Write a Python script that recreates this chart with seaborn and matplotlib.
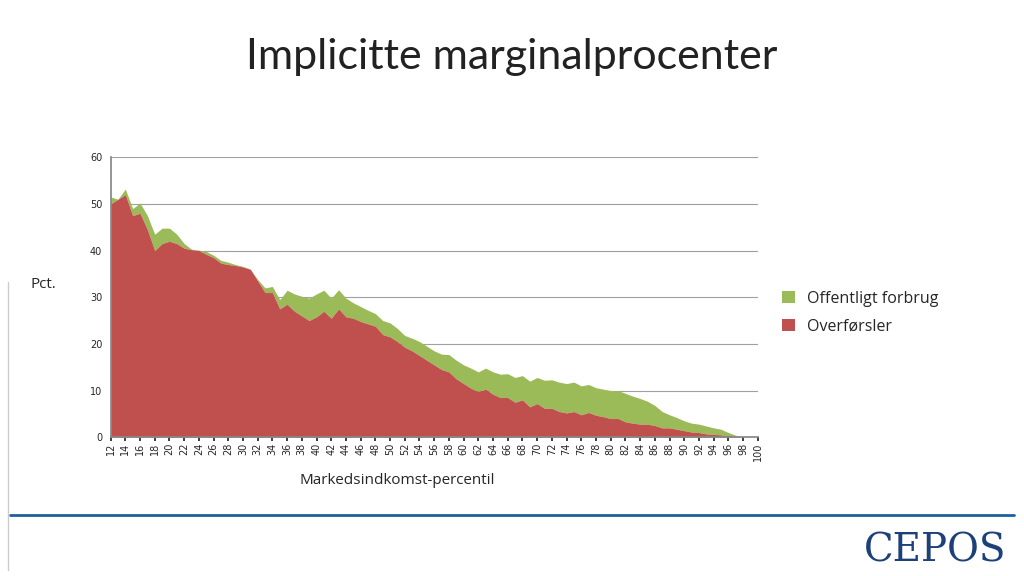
import numpy as np
import matplotlib
matplotlib.use("Agg")
import matplotlib.pyplot as plt
import seaborn as sns

# percentiles 12..100
percentiles = list(range(12, 101))
overforsler = [50, 51, 52, 47.5, 48, 44.5, 40, 41.5, 42, 41.5, 40.5, 40.2, 40, 39.2, 38.5, 37.3, 37, 36.8, 36.5, 36,
               33.5, 31, 31, 27.5, 28.5, 27, 26, 25, 25.8, 27, 25.5, 27.5, 25.8, 25.5, 24.8, 24.3, 23.8, 22, 21.5, 20.5,
               19.3, 18.5, 17.5, 16.5, 15.5, 14.5, 14, 12.5, 11.5, 10.5, 9.8, 10.3, 9.2, 8.5, 8.5, 7.5, 8, 6.5, 7.2, 6.2,
               6.2, 5.5, 5.2, 5.5, 4.8, 5.3, 4.7, 4.4, 4, 4, 3.3, 3, 2.8, 2.8, 2.5, 2, 2, 1.7, 1.4, 1.1,
               1, 0.7, 0.6, 0.5, 0.3, 0.1, 0, 0, 0]
total = [51.5, 51, 53.2, 49, 50.2, 47.5, 43.5, 44.8, 44.8, 43.5, 41.5, 40.3, 40.1, 39.8, 39, 37.9, 37.5, 37, 36.6, 36,
         33.8, 32, 32.3, 29.5, 31.5, 30.7, 30.2, 29.8, 30.7, 31.5, 29.8, 31.6, 29.8, 28.8, 28, 27.2, 26.5, 25, 24.5, 23.3,
         21.8, 21.2, 20.5, 19.5, 18.5, 17.8, 17.7, 16.5, 15.5, 14.8, 14, 14.8, 14, 13.5, 13.6, 12.8, 13.2, 12, 12.8, 12.2,
         12.3, 11.8, 11.5, 11.8, 11, 11.3, 10.6, 10.3, 10, 10, 9.4, 8.8, 8.3, 7.7, 6.8, 5.5, 4.8, 4.2, 3.5, 3,
         2.8, 2.4, 2, 1.7, 1, 0.4, 0.1, 0, 0]
yticks = [0, 10, 20, 30, 40, 50, 60]

RED = "#c0504d"
GREEN = "#9bbb59"

sns.set_theme(style="white")
fig = plt.figure(figsize=(10.24, 5.76), dpi=100)
ax = fig.add_axes([0.108, 0.241, 0.632, 0.486])

ax.fill_between(percentiles, overforsler, total, color=GREEN, lw=0, label="Offentligt forbrug", zorder=2)
ax.fill_between(percentiles, 0, overforsler, color=RED, lw=0, label="Overførsler", zorder=2)

ax.set_xlim(12, 100)
ax.set_ylim(0, 60)
ax.set_yticks(yticks)
ax.set_xticks(percentiles[::2])
ax.tick_params(axis="x", labelsize=7, rotation=90, length=3, bottom=True, pad=1)
ax.tick_params(axis="y", labelsize=7, length=0, pad=6)
ax.yaxis.grid(True, color="#a0a0a0", lw=0.8, zorder=0)
for s in ["top", "right"]:
    ax.spines[s].set_visible(False)
for s in ["left", "bottom"]:
    ax.spines[s].set_color("#888888")
ax.set_axisbelow(True)

fig.text(0.5, 0.901, "Implicitte marginalprocenter", ha="center", va="center", fontsize=31,
         family="Lato", color="#222222")
fig.text(0.03, 0.5, "Pct.", fontsize=11, family="Open Sans")
fig.text(0.388, 0.16, "Markedsindkomst-percentil", ha="center", fontsize=11, family="Open Sans")

ax.legend(loc="upper left", bbox_to_anchor=(1.015, 0.575), frameon=False,
          handlelength=0.8, handleheight=0.8, labelspacing=0.75, prop={"family": "Open Sans", "size": 11.5})

fig.add_artist(plt.Line2D([0.01, 0.99], [0.106, 0.106], color="#1f5f9f", lw=2))
fig.add_artist(plt.Line2D([0.008, 0.008], [0.01, 0.51], color="#cccccc", lw=1))
fig.text(0.913, 0.025, "CEPOS", ha="center", fontsize=28, family="DejaVu Serif", color="#1d3f7a")

fig.savefig("out.png", dpi=100)
